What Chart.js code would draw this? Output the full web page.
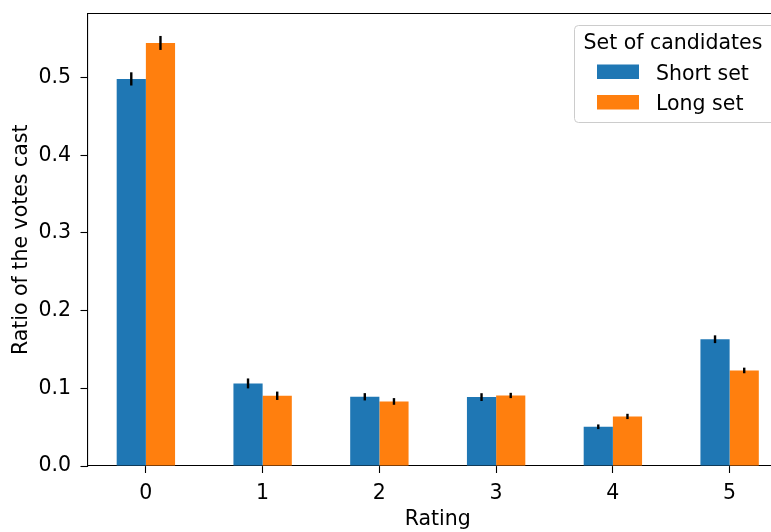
<!DOCTYPE html>
<html>
<head>
<meta charset="utf-8">
<script src="https://cdn.jsdelivr.net/npm/chart.js@4.4.1/dist/chart.umd.min.js"></script>
<style>
  html, body { margin: 0; padding: 0; background: #fff; overflow: hidden; }
  #wrap { width: 800px; height: 532px; }
</style>
</head>
<body>
<div id="wrap"><canvas id="myChart" width="800" height="532"></canvas></div>
<script>
// ratings on the x axis
const ratings = ['0', '1', '2', '3', '4', '5'];
// share of votes for each rating
const shortSet = [0.4983, 0.1063, 0.0891, 0.0887, 0.0505, 0.1632];
const longSet = [0.5446, 0.0904, 0.0831, 0.0908, 0.0638, 0.1230];
// half length of the error bars
const shortErr = [0.0085, 0.0064, 0.0047, 0.0050, 0.0030, 0.0050];
const longErr = [0.0090, 0.0054, 0.0043, 0.0034, 0.0034, 0.0036];
const yTicks = [0.0, 0.1, 0.2, 0.3, 0.4, 0.5];
const seriesNames = ['Short set', 'Long set'];
const legendTitle = 'Set of candidates';

const FONT = '"DejaVu Sans", sans-serif';
const FS = 20.5;
const blue = '#1f77b4';
const orange = '#ff7f0e';

// error bars drawn from the bar positions
const errorBars = {
    id: 'errorBars',
    afterDatasetsDraw(chart) {
        const ctx = chart.ctx;
        const y = chart.scales.y;
        const errs = [shortErr, longErr];
        ctx.save();
        ctx.strokeStyle = '#000';
        ctx.lineWidth = 2.4;
        chart.data.datasets.forEach(function (ds, d) {
            chart.getDatasetMeta(d).data.forEach(function (bar, i) {
                let v = ds.data[i];
                let e = errs[d][i];
                ctx.beginPath();
                ctx.moveTo(bar.x, y.getPixelForValue(v - e));
                ctx.lineTo(bar.x, y.getPixelForValue(v + e));
                ctx.stroke();
            });
        });
        ctx.restore();
    }
};

// top spine + matplotlib-like legend box
const frameAndLegend = {
    id: 'frameAndLegend',
    afterDraw(chart) {
        const ctx = chart.ctx;
        const a = chart.chartArea;
        ctx.save();
        ctx.strokeStyle = '#000';
        ctx.lineWidth = 1.1;
        ctx.beginPath();
        ctx.moveTo(a.left, a.top);
        ctx.lineTo(a.right, a.top);
        ctx.lineTo(a.right, a.bottom);
        ctx.stroke();

        // legend
        let bx = 574, by = 25, bw = a.right - 7 - bx, bh = 97;
        ctx.fillStyle = 'rgba(255,255,255,0.8)';
        ctx.strokeStyle = '#cccccc';
        ctx.lineWidth = 1;
        ctx.beginPath();
        ctx.roundRect(bx + 0.5, by + 0.5, bw, bh, 4);
        ctx.fill();
        ctx.stroke();

        ctx.fillStyle = '#000';
        ctx.font = FS + 'px ' + FONT;
        ctx.textBaseline = 'alphabetic';
        ctx.textAlign = 'left';
        ctx.fillText(legendTitle, 583.5, 48.5);
        const cols = [blue, orange];
        seriesNames.forEach(function (name, i) {
            let top = 64.5 + i * 30.5;
            ctx.fillStyle = cols[i];
            ctx.fillRect(597, top, 42, 14.5);
            ctx.fillStyle = '#000';
            ctx.fillText(name, 656, top + 15);
        });
        ctx.restore();
    }
};

const ctx = document.getElementById('myChart').getContext('2d');
new Chart(ctx, {
    type: 'bar',
    data: {
        labels: ratings,
        datasets: [
            { label: seriesNames[0], data: shortSet, backgroundColor: blue, borderWidth: 0 },
            { label: seriesNames[1], data: longSet, backgroundColor: orange, borderWidth: 0 }
        ]
    },
    options: {
        responsive: false,
        animation: false,
        events: [],
        categoryPercentage: 0.5,
        barPercentage: 1.0,
        layout: { padding: { left: 0, top: 13.5, right: 12, bottom: 0 } },
        plugins: {
            legend: { display: false },
            tooltip: { enabled: false }
        },
        scales: {
            x: {
                grid: { offset: false, drawOnChartArea: false, tickLength: 7, tickColor: '#000', tickWidth: 1.1 },
                border: { color: '#000', width: 1.1 },
                ticks: { color: '#000', font: { family: FONT, size: FS }, padding: 8.5, maxRotation: 0 },
                title: { display: true, text: 'Rating', color: '#000', font: { family: FONT, size: FS }, padding: { top: 0, bottom: 0 } },
                afterFit(scale) { scale.height = 66; scale.paddingLeft = 0; scale.paddingRight = 0; }
            },
            y: {
                min: 0,
                max: 0.5825,
                grid: { drawOnChartArea: false, tickLength: 7, tickColor: '#000', tickWidth: 1.1 },
                border: { color: '#000', width: 1.1 },
                ticks: {
                    color: '#000',
                    font: { family: FONT, size: FS },
                    padding: 9.5,
                    callback: function (v) { return v.toFixed(1); }
                },
                afterBuildTicks(scale) { scale.ticks = yTicks.map(function (v) { return { value: v }; }); },
                title: { display: true, text: 'Ratio of the votes cast', color: '#000', font: { family: FONT, size: FS }, padding: { top: 9, bottom: 0 } },
                afterFit(scale) { scale.width = 87.5; scale.paddingTop = 0; scale.paddingBottom = 0; }
            }
        }
    },
    plugins: [errorBars, frameAndLegend]
});
</script>
</body>
</html>
